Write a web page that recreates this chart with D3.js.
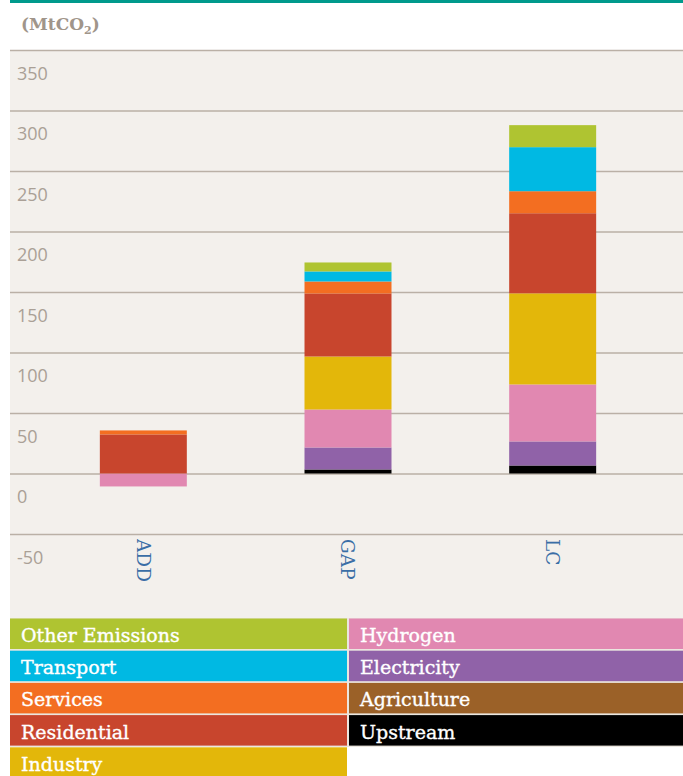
<!DOCTYPE html>
<html>
<head>
<meta charset="utf-8">
<script src="https://cdn.jsdelivr.net/npm/d3@7"></script>
<style>
  body { margin: 0; background: #fff; }
  svg { display: block; }
</style>
</head>
<body>
<div id="chart"></div>
<script>
// Dữ liệu
const categories = ["ADD", "GAP", "LC"];
const seriesNames = ["Upstream", "Agriculture", "Electricity", "Hydrogen", "Industry",
    "Residential", "Services", "Transport", "Other Emissions"];
const upstream = [0, 3.3, 6.6];
const agriculture = [0, 0, 0];
const electricity = [0, 18.2, 19.9];
const hydrogen = [-10.7, 31.4, 47.1];
const industry = [0, 43.8, 75.3];
const residential = [32.3, 52.1, 66.2];
const services = [3.3, 9.9, 18.2];
const transport = [0, 8.3, 36.4];
const otherEmissions = [0, 7.4, 18.2];
const yTicks = [-50, 0, 50, 100, 150, 200, 250, 300, 350];
const legendLeft = ["Other Emissions", "Transport", "Services", "Residential", "Industry"];
const legendRight = ["Hydrogen", "Electricity", "Agriculture", "Upstream"];

const colors = {
    "Other Emissions": "#afc431",
    "Transport": "#00b9e3",
    "Services": "#f36e21",
    "Residential": "#c8452d",
    "Industry": "#e3b70a",
    "Hydrogen": "#e188b1",
    "Electricity": "#9062a8",
    "Agriculture": "#9b6128",
    "Upstream": "#000000"
};

function drawChart() {
    const W = 683, H = 776;
    const values = [upstream, agriculture, electricity, hydrogen, industry,
        residential, services, transport, otherEmissions];

    const rows = categories.map((c, i) => {
        const row = { category: c };
        seriesNames.forEach((s, k) => row[s] = values[k][i]);
        return row;
    });

    const svg = d3.select("#chart")
        .append("svg")
        .attr("width", W)
        .attr("height", H);

    // Nền
    svg.append("rect")
        .attr("x", 10).attr("y", 0)
        .attr("width", W - 10).attr("height", 3)
        .attr("fill", "#009a8c");

    svg.append("rect")
        .attr("x", 10).attr("y", 50)
        .attr("width", W - 10).attr("height", 568)
        .attr("fill", "#f3f0ec");

    // Tiêu đề
    const title = svg.append("text")
        .attr("x", 21).attr("y", 30)
        .style("font-family", "DejaVu Serif")
        .style("font-size", "17px")
        .style("font-weight", "bold")
        .attr("fill", "#a0958a");
    title.append("tspan").text("(MtCO");
    title.append("tspan").attr("dy", 4).style("font-size", "11px").text("2");
    title.append("tspan").attr("dy", -4).text(")");

    // Tỷ lệ
    const x = d3.scaleBand()
        .domain(categories)
        .range([41, 655])
        .paddingInner(0.575)
        .paddingOuter(0.2875);

    const y = d3.scaleLinear()
        .domain([-50, 350])
        .range([534, 50]);

    // Trục Y + lưới
    const yAxis = svg.append("g")
        .attr("transform", "translate(10,0)")
        .call(d3.axisRight(y).tickValues(yTicks).tickSize(W - 10).tickFormat(d => String(d)));
    yAxis.select(".domain").remove();
    yAxis.selectAll("line")
        .attr("stroke", "#bab0a6")
        .attr("stroke-width", 1.5);
    yAxis.selectAll("text")
        .attr("x", 7)
        .attr("dy", 29)
        .style("text-anchor", "start")
        .style("font-family", "Open Sans")
        .style("font-size", "18px")
        .attr("fill", "#aaa096");

    // Vẽ thanh
    const stack = d3.stack()
        .keys(seriesNames)
        .offset(d3.stackOffsetDiverging);

    svg.append("g")
        .selectAll("g")
        .data(stack(rows))
        .join("g")
        .attr("fill", d => colors[d.key])
        .selectAll("rect")
        .data(d => d)
        .join("rect")
        .attr("x", d => x(d.data.category))
        .attr("y", d => y(Math.max(d[0], d[1])))
        .attr("width", x.bandwidth())
        .attr("height", d => Math.abs(y(d[0]) - y(d[1])));

    // Nhãn trục X (xoay)
    svg.append("g")
        .selectAll("text")
        .data(categories)
        .join("text")
        .attr("transform", d => `translate(${x(d) + x.bandwidth() / 2},539) rotate(90)`)
        .attr("dy", "0.36em")
        .style("font-family", "DejaVu Serif")
        .style("font-size", "18.5px")
        .attr("fill", "#3a6ea6")
        .text(d => d);

    // Chú giải
    svg.append("rect")
        .attr("x", 10).attr("y", 618)
        .attr("width", W - 10).attr("height", 129)
        .attr("fill", "#ebe6df");

    const legendItems = legendLeft.map((s, i) => ({ s, col: 0, row: i }))
        .concat(legendRight.map((s, i) => ({ s, col: 1, row: i })));

    const cell = svg.append("g")
        .selectAll("g")
        .data(legendItems)
        .join("g")
        .attr("transform", d => `translate(${d.col ? 349 : 10},${618.5 + d.row * 32.2})`);

    cell.append("rect")
        .attr("width", d => d.col ? W - 349 : 337)
        .attr("height", d => d.row === 4 ? 40 : 30.5)
        .attr("fill", d => colors[d.s]);

    cell.append("text")
        .attr("x", 11)
        .attr("y", 23.5)
        .style("font-family", "DejaVu Serif")
        .style("font-size", "19px")
        .attr("fill", "#fff")
        .attr("stroke", "#fff")
        .attr("stroke-width", 0.35)
        .text(d => d.s);
}

drawChart();
</script>
</body>
</html>
